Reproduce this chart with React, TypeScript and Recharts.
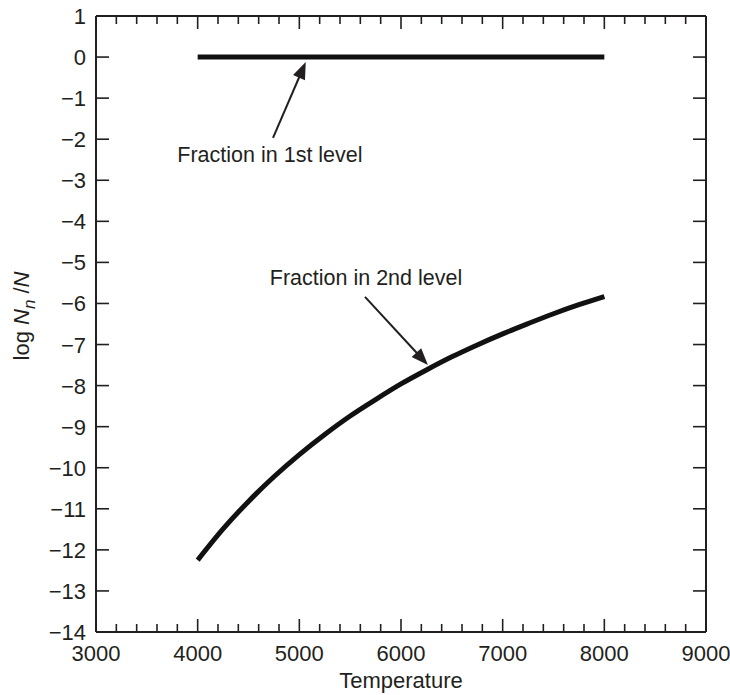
import React from 'react';
import { LineChart, Line, XAxis, YAxis, ReferenceLine, ReferenceDot } from 'recharts';

// fraction of atoms in the ground level (flat at log = 0)
const firstLevelTemps = [4000, 8000];
const firstLevelLog = [0, 0];

// fraction in the 2nd level
const secondLevelTemps = [4000, 4250, 4500, 4750, 5000, 5250, 5500, 5750, 6000, 6250, 6500, 6750, 7000, 7250, 7500, 7750, 8000];
const secondLevelLog = [-12.25, -11.49, -10.82, -10.22, -9.68, -9.19, -8.74, -8.34, -7.96, -7.62, -7.3, -7.01, -6.74, -6.49, -6.25, -6.03, -5.83];

const xMajorTicks = [3000, 4000, 5000, 6000, 7000, 8000, 9000];
const yTicks = [1, 0, -1, -2, -3, -4, -5, -6, -7, -8, -9, -10, -11, -12, -13, -14];

// annotation anchors (data coordinates)
const noteLabels = ['Fraction in 1st level', 'Fraction in 2nd level'];
const noteTextAt = [
  { x: 4711, y: -2.56 },
  { x: 5656, y: -5.55 },
];
const noteArrows = [
  [{ x: 4741, y: -1.97 }, { x: 5063, y: -0.12 }],
  [{ x: 5646, y: -5.84 }, { x: 6265, y: -7.5 }],
];

const FONT = '"Liberation Sans", Arial, Helvetica, sans-serif';
const INK = '#231f20';
const FS = 22;
const NOTE_FS = 21.5;

const xAllTicks: number[] = [];
for (let i = 0; i < xMajorTicks.length; i++) {
  xAllTicks.push(xMajorTicks[i]);
  if (i < xMajorTicks.length - 1) {
    for (let k = 1; k < 5; k++) xAllTicks.push(xMajorTicks[i] + k * 200);
  }
}

const firstLevel = firstLevelTemps.map((t, i) => ({ t, v: firstLevelLog[i] }));
const secondLevel = secondLevelTemps.map((t, i) => ({ t, v: secondLevelLog[i] }));

const fmt = (v: number) => (v < 0 ? `\u2212${-v}` : `${v}`);

const BottomTick = (props: any) => {
  const { x, y, payload } = props;
  const major = payload.value % 1000 === 0;
  return (
    <g>
      <line x1={x} y1={y} x2={x} y2={y - (major ? 13 : 8)} stroke={INK} strokeWidth={1.6} />
      {major && (
        <text x={x} y={y + 29} textAnchor="middle" fontFamily={FONT} fontSize={FS} fill={INK}>
          {payload.value}
        </text>
      )}
    </g>
  );
};

const TopTick = (props: any) => {
  const { x, y, payload } = props;
  const major = payload.value % 1000 === 0;
  return (
    <g>
      <line x1={x} y1={y} x2={x} y2={y + (major ? 13 : 8)} stroke={INK} strokeWidth={1.6} />
    </g>
  );
};

const LeftTick = (props: any) => {
  const { x, y, payload } = props;
  return (
    <g>
      <line x1={x} y1={y} x2={x + 13} y2={y} stroke={INK} strokeWidth={1.6} />
      <text x={x - 10} y={y + 8} textAnchor="end" fontFamily={FONT} fontSize={FS} fill={INK}>
        {fmt(payload.value)}
      </text>
    </g>
  );
};

const RightTick = (props: any) => {
  const { x, y } = props;
  return (
    <g>
      <line x1={x} y1={y} x2={x - 13} y2={y} stroke={INK} strokeWidth={1.6} />
    </g>
  );
};

const ArrowShape = (props: any) => {
  const { x1, y1, x2, y2 } = props;
  const dx = x2 - x1;
  const dy = y2 - y1;
  const len = Math.sqrt(dx * dx + dy * dy) || 1;
  const ux = dx / len;
  const uy = dy / len;
  const headLen = 17;
  const half = 6.5;
  const bx = x2 - ux * headLen;
  const by = y2 - uy * headLen;
  const pts = `${x2},${y2} ${bx - uy * half},${by + ux * half} ${bx + uy * half},${by - ux * half}`;
  return (
    <g>
      <line x1={x1} y1={y1} x2={bx + ux * 2} y2={by + uy * 2} stroke={INK} strokeWidth={2} />
      <polygon points={pts} fill={INK} />
    </g>
  );
};

const noteShape = (label: string) => (props: any) => (
  <text x={props.cx} y={props.cy} textAnchor="middle" fontFamily={FONT} fontSize={NOTE_FS} fill={INK}>
    {label}
  </text>
);

const YLabel = (props: any) => {
  const vb = props.viewBox || { x: 0, y: 16, width: 96, height: 616 };
  const cx = vb.x + 29;
  const cy = vb.y + vb.height / 2 - 8;
  return (
    <text
      x={cx}
      y={cy}
      transform={`rotate(-90, ${cx}, ${cy})`}
      textAnchor="middle"
      fontFamily={FONT}
      fontSize={FS}
      fill={INK}
    >
      log{' '}
      <tspan fontStyle="italic">N</tspan>
      <tspan fontStyle="italic" fontSize={17} dy={6}>n</tspan>
      <tspan dy={-6}> /</tspan>
      <tspan fontStyle="italic">N</tspan>
    </text>
  );
};

const XLabel = (props: any) => {
  const vb = props.viewBox || { x: 96, y: 632, width: 610, height: 63 };
  return (
    <text x={vb.x + vb.width / 2} y={vb.y + 56} textAnchor="middle" fontFamily={FONT} fontSize={FS} fill={INK}>
      Temperature
    </text>
  );
};

export default function App() {
  return (
    <div style={{ position: 'absolute', left: 0, top: 0, background: '#fff' }}>
      <LineChart width={730} height={695} margin={{ top: 15, right: 23, bottom: 0, left: 0 }}>
        <XAxis
          xAxisId="bottom"
          dataKey="t"
          type="number"
          domain={[3000, 9000]}
          ticks={xAllTicks}
          interval={0}
          allowDataOverflow
          height={63}
          tickSize={0}
          tickMargin={0}
          tickLine={false}
          axisLine={{ stroke: INK, strokeWidth: 2 }}
          tick={BottomTick}
          label={XLabel}
        />
        <XAxis
          xAxisId="top"
          orientation="top"
          dataKey="t"
          type="number"
          domain={[3000, 9000]}
          ticks={xAllTicks}
          interval={0}
          allowDataOverflow
          height={1}
          tickSize={0}
          tickMargin={0}
          tickLine={false}
          axisLine={{ stroke: INK, strokeWidth: 2 }}
          tick={TopTick}
        />
        <YAxis
          yAxisId="left"
          type="number"
          domain={[-14, 1]}
          ticks={yTicks}
          interval={0}
          allowDataOverflow
          width={96}
          tickSize={0}
          tickMargin={0}
          tickLine={false}
          axisLine={{ stroke: INK, strokeWidth: 2 }}
          tick={LeftTick}
          label={YLabel}
        />
        <YAxis
          yAxisId="right"
          orientation="right"
          type="number"
          domain={[-14, 1]}
          ticks={yTicks}
          interval={0}
          allowDataOverflow
          width={1}
          tickSize={0}
          tickMargin={0}
          tickLine={false}
          axisLine={{ stroke: INK, strokeWidth: 2 }}
          tick={RightTick}
        />
        <Line
          xAxisId="bottom"
          yAxisId="left"
          data={firstLevel}
          dataKey="v"
          type="linear"
          stroke="#111"
          strokeWidth={5}
          dot={false}
          activeDot={false}
          isAnimationActive={false}
        />
        <Line
          xAxisId="bottom"
          yAxisId="left"
          data={secondLevel}
          dataKey="v"
          type="monotone"
          stroke="#111"
          strokeWidth={5}
          dot={false}
          activeDot={false}
          isAnimationActive={false}
        />
        {/* invisible copy so the mirrored top/right axes get a scale */}
        <Line
          xAxisId="top"
          yAxisId="right"
          data={firstLevel}
          dataKey="v"
          stroke="none"
          dot={false}
          activeDot={false}
          legendType="none"
          isAnimationActive={false}
        />
        {noteArrows.map((seg, i) => (
          <ReferenceLine
            key={`arrow-${i}`}
            xAxisId="bottom"
            yAxisId="left"
            segment={seg}
            ifOverflow="visible"
            shape={ArrowShape}
          />
        ))}
        {noteLabels.map((label, i) => (
          <ReferenceDot
            key={`note-${i}`}
            xAxisId="bottom"
            yAxisId="left"
            x={noteTextAt[i].x}
            y={noteTextAt[i].y}
            ifOverflow="visible"
            shape={noteShape(label)}
          />
        ))}
      </LineChart>
    </div>
  );
}
